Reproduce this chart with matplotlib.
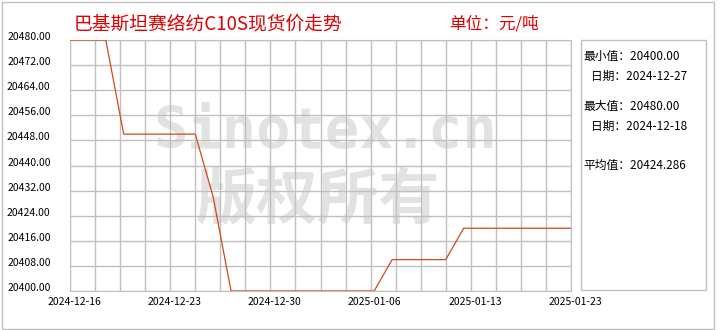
import numpy as np
import matplotlib
matplotlib.use("Agg")
import matplotlib.pyplot as plt
from matplotlib.patches import Rectangle
from matplotlib.transforms import ScaledTranslation

plt.rcParams['font.family'] = ['Noto Sans CJK SC', 'DejaVu Sans']

# trading days and spot prices (yuan / ton)
dates = ["2024-12-16", "2024-12-17", "2024-12-18", "2024-12-19", "2024-12-20",
         "2024-12-23", "2024-12-24", "2024-12-25", "2024-12-26", "2024-12-27",
         "2024-12-30", "2024-12-31", "2025-01-01", "2025-01-02", "2025-01-03",
         "2025-01-06", "2025-01-07", "2025-01-08", "2025-01-09", "2025-01-10",
         "2025-01-13", "2025-01-14", "2025-01-15", "2025-01-16", "2025-01-17",
         "2025-01-20", "2025-01-21", "2025-01-22", "2025-01-23"]
prices = [20480, 20480, 20480,
          20450, 20450, 20450, 20450, 20450,
          20430,
          20400, 20400, 20400, 20400, 20400, 20400, 20400, 20400, 20400,
          20410, 20410, 20410, 20410,
          20420, 20420, 20420, 20420, 20420, 20420, 20420]
xtick_labels = ["2024-12-16", "2024-12-23", "2024-12-30",
                "2025-01-06", "2025-01-13", "2025-01-23"]
ytick_values = [20400, 20408, 20416, 20424, 20432, 20440, 20448,
                20456, 20464, 20472, 20480]

title = "巴基斯坦赛络纺C10S现货价走势"
unit = "单位：元/吨"
stats = [("最小值：20400.00", 56), ("   日期：2024-12-27", 76),
         ("最大值：20480.00", 106), ("   日期：2024-12-18", 126),
         ("平均值：20424.286", 165)]

W, H = 720, 330
fig = plt.figure(figsize=(7.2, 3.3), dpi=100)
fig.patch.set_facecolor("white")

grid_c = "#c0c0c0"
ax = fig.add_axes([70 / W, (H - 291) / H, 501 / W, 251 / H])
n = len(prices)
x = np.arange(n)

# watermark under the grid
ax.text(0.51, 0.63, "Sinotex.cn", transform=ax.transAxes, fontsize=41,
        family="DejaVu Sans Mono", fontweight="bold", color="#e2e2e2",
        ha="center", va="center", zorder=0)
ax.text(0.495, 0.355, "版权所有", transform=ax.transAxes, fontsize=44,
        fontweight="bold", color="#e2e2e2", ha="center", va="center", zorder=0)

for v in ytick_values:
    ax.axhline(v, color=grid_c, lw=1, zorder=1)
for xv in np.linspace(0, n - 1, 21):
    ax.axvline(xv, color=grid_c, lw=1, zorder=1)

ax.plot(x, prices, color="#d04a1c", lw=0.9, zorder=3)

ax.set_xlim(0, n - 1)
ax.set_ylim(20400, 20480)
ax.set_yticks(ytick_values)
ax.set_yticklabels(["%.2f" % v for v in ytick_values])
ax.set_xticks(np.linspace(0, n - 1, len(xtick_labels)))
ax.set_xticklabels(xtick_labels)
ax.tick_params(length=0, labelsize=7.5, colors="black")
ax.tick_params(axis="y", pad=14)
ax.tick_params(axis="x", pad=4)
for lab in ax.get_yticklabels():
    lab.set_transform(lab.get_transform() + ScaledTranslation(0, 4 / 100, fig.dpi_scale_trans))
for lab in ax.get_xticklabels():
    lab.set_transform(lab.get_transform() + ScaledTranslation(4 / 100, 0, fig.dpi_scale_trans))
for s in ax.spines.values():
    s.set_color(grid_c)

# titles
fig.text(74 / W, 1 - 24 / H, title, color="#e00000", fontsize=13.5,
         ha="left", va="center")
fig.text(449 / W, 1 - 24 / H, unit, color="#e00000", fontsize=12,
         ha="left", va="center")

# stats box
fig.patches.append(Rectangle((581 / W, (H - 290) / H), 125 / W, 250 / H,
                             transform=fig.transFigure, fill=False,
                             edgecolor=grid_c, lw=1))
for txt, yy in stats:
    fig.text(583 / W, 1 - yy / H, txt, fontsize=8.5, color="black",
             ha="left", va="center")

# outer frame
fig.patches.append(Rectangle((2 / W, 1 / H), 712 / W, 327 / H,
                             transform=fig.transFigure, fill=False,
                             edgecolor=grid_c, lw=1))

fig.savefig("out.png", dpi=100)
